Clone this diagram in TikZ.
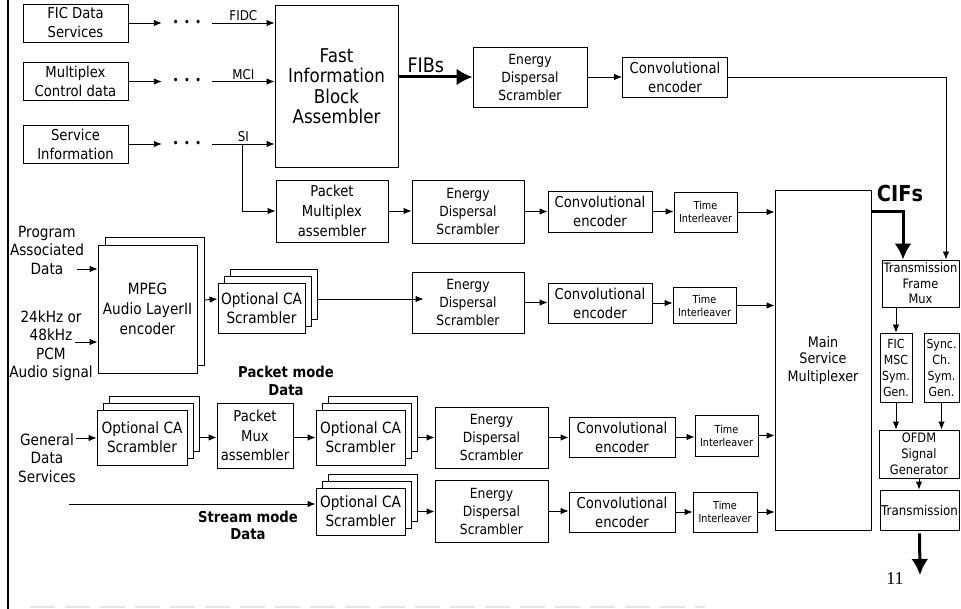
\documentclass[tikz,border=0pt]{standalone}
\usepackage{fontspec}
\setmainfont{DejaVu Sans}[FakeStretch=0.88]
\newfontfamily\pagenumfont{Liberation Serif}
\usetikzlibrary{arrows.meta,shadows}
\newcommand{\fsz}[2]{\fontsize{#1}{#2}\selectfont}

\begin{document}
\begin{tikzpicture}[x=1pt,y=-1pt,>={Latex[length=8pt,width=6.5pt]},
 blk/.style={draw,fill=white,align=center,inner sep=0.5pt,line width=0.9pt},
 sz/.style 2 args={minimum width=#1,minimum height=#2},
 layer/.style={copy shadow={fill=white,draw,line width=0.9pt,shadow xshift=#1*6pt,shadow yshift=#1*7pt}},
 stack/.style={blk,layer=2,layer=1},
 arr/.style={->,line width=0.9pt},
 fatarr/.style={-{Latex[length=16pt,width=17pt]},line width=3pt},
 txt/.style={align=center,inner sep=0pt,font=\fsz{15.5}{18.5}},
 bold/.style={align=center,inner sep=0pt,font=\bfseries\fsz{15}{17.5}},
 lab/.style={above,inner sep=1.5pt,font=\fsz{13.5}{13.5}},
 ellip/.style={inner sep=0pt,minimum width=50,font=\fsz{12}{12}},
 inp/.style={blk,sz={105}{38},font=\fsz{15}{19}},
 edsc/.style={blk,font=\fsz{14}{18}},
 conv/.style={blk,sz={105}{40},font=\fsz{15}{19}},
 tint/.style={blk,sz={63}{40},font=\fsz{11}{13}},
 casc/.style={stack,sz={89}{53},font=\fsz{15.5}{19}},
 right col/.style={blk,inner sep=0pt,font=\fsz{13}{15.5}}]
\useasboundingbox (0,0) rectangle (961,609);
\draw[line width=2pt] (8,0) -- (8,609);
\draw[gray!20,line width=2pt,dash pattern=on 25pt off 10pt] (30,607) -- (705,607);

% FIC part
\node[inp] (ficd) at (75.5,23) {FIC Data\\Services};
\node[inp] (mcd) at (75.5,81.5) {Multiplex\\Control data};
\node[inp] (sinf) at (75.5,144) {Service\\Information};
\node[ellip] (d1) at (187,23) {\textbullet\hspace{5pt}\textbullet\hspace{5pt}\textbullet};
\node[ellip] (d2) at (187,81.5) {\textbullet\hspace{5pt}\textbullet\hspace{5pt}\textbullet};
\node[ellip] (d3) at (187,144) {\textbullet\hspace{5pt}\textbullet\hspace{5pt}\textbullet};
\node[blk,sz={123}{162},font=\fsz{19}{20.5}] (fib) at (336.5,86)
 {Fast\\Information\\Block\\Assembler};
\draw[arr] (ficd) -- (d1);
\draw[arr] (mcd) -- (d2);
\draw[arr] (sinf) -- (d3);
\draw[arr] (d1) -- node[lab]{FIDC} (d1 -| fib.west);
\draw[arr] (d2) -- node[lab]{MCI} (d2 -| fib.west);
\draw[arr] (d3) -- node[lab]{SI} (d3 -| fib.west);
\node[edsc,sz={114}{60}] (ed1) at (530,77) {Energy\\Dispersal\\Scrambler};
\node[conv] (ce1) at (675,77) {Convolutional\\encoder};
\draw[fatarr] (fib.east |- ed1) -- node[above,pos=0.37,inner sep=3pt,font=\fsz{20}{20}]{FIBs} (ed1.west);
\draw[arr] (ed1) -- (ce1);

% packet data from SI
\coordinate (sib) at (242,144);
\node[blk,sz={112}{62},font=\fsz{15}{20}] (pma) at (332,211) {Packet\\Multiplex\\assembler};
\node[edsc,sz={112}{63}] (ed2) at (468,211.5) {Energy\\Dispersal\\Scrambler};
\node[conv,sz={104}{41}] (ce2) at (600,211.5) {Convolutional\\encoder};
\node[tint] (ti1) at (705.5,212) {Time\\Interleaver};
\node[blk,sz={96}{340},font=\fsz{14.5}{17}] (msm) at (823,360) {Main\\Service\\Multiplexer};
\draw[arr] (sib) |- (pma.west);
\draw[arr] (pma) -- (pma -| ed2.west);
\draw[arr] (ed2) -- (ed2 -| ce2.west);
\draw[arr] (ce2) -- (ce2 -| ti1.west);
\draw[arr] (ti1) -- (ti1 -| msm.west);

% audio
\node[txt] (pad) at (47,250) {Program\\Associated\\Data};
\node[txt] (aud) at (51,345.5) {24kHz or\\48kHz\\PCM\\Audio signal};
\coordinate (pd) at (77,269);
\coordinate (ad) at (75,342);
\node[blk,sz={99}{128},font=\fsz{15.5}{20},
 copy shadow={fill=white,draw,line width=0.9pt,shadow xshift=7pt,shadow yshift=8pt}]
 (mpeg) at (147.5,309) {MPEG\\Audio LayerII\\encoder};
\node[casc,sz={87}{50}] (ca1) at (261.5,308) {Optional CA\\Scrambler};
\node[edsc,sz={112}{61}] (ed3) at (468,302.5) {Energy\\Dispersal\\Scrambler};
\node[conv,sz={104}{40}] (ce3) at (600,303) {Convolutional\\encoder};
\node[tint,sz={63}{36}] (ti2) at (704.5,305.5) {Time\\Interleaver};
\draw[arr] (pd) -- (pd -| mpeg.west);
\draw[arr] (ad) -- (ad -| mpeg.west);
\draw[arr] ([xshift=7pt,yshift=9pt]mpeg.east) -- ([yshift=9pt]ca1.west);
\draw[arr] ([xshift=12pt,yshift=9pt]ca1.east) -- ([xshift=12pt,yshift=9pt]ca1.east -| ed3.west);
\draw[arr] (ed3) -- (ed3 -| ce3.west);
\draw[arr] (ce3) -- (ce3 -| ti2.west);
\draw[arr] (ti2) -- (ti2 -| msm.west);

% general data
\node[bold] (pmd) at (286,381) {Packet mode\\Data};
\node[txt] (gds) at (47,458) {General\\Data\\Services};
\coordinate (gd) at (76,438);
\node[casc,sz={90}{55}] (ca2) at (142,437.5) {Optional CA\\Scrambler};
\node[blk,sz={76}{65},font=\fsz{15}{19.5}] (pmx) at (255,435.5) {Packet\\Mux\\assembler};
\node[casc,sz={89}{55}] (ca3) at (360.5,437.5) {Optional CA\\Scrambler};
\node[edsc,sz={113}{61}] (ed4) at (491.5,437.5) {Energy\\Dispersal\\Scrambler};
\node[conv,sz={106}{40}] (ce4) at (622,437) {Convolutional\\encoder};
\node[tint,sz={63}{41}] (ti3) at (726.5,435.5) {Time\\Interleaver};
\draw[arr] (gd) -- (gd -| ca2.west);
\draw[arr] ([xshift=12pt]ca2.east) -- (ca2 -| pmx.west);
\draw[arr] (ca2 -| pmx.east) -- (ca2 -| ca3.west);
\draw[arr] ([xshift=12pt]ca3.east) -- (ca3 -| ed4.west);
\draw[arr] (ed4) -- (ed4 -| ce4.west);
\draw[arr] (ce4) -- (ce4 -| ti3.west);
\draw[arr] (ti3) -- (ti3 -| msm.west);

\node[bold] (smd) at (248,525.5) {Stream mode\\Data};
\coordinate (sd) at (69,504);
\node[casc,sz={89}{47}] (ca4) at (360.5,511.5) {Optional CA\\Scrambler};
\node[edsc,sz={113}{62}] (ed5) at (491.5,511) {Energy\\Dispersal\\Scrambler};
\node[conv,sz={106}{40}] (ce5) at (622,512) {Convolutional\\encoder};
\node[tint,sz={64}{40}] (ti4) at (725,512) {Time\\Interleaver};
\draw[arr] (sd) -- (sd -| ca4.west);
\draw[arr] ([xshift=12pt]ca4.east) -- (ca4 -| ed5.west);
\draw[arr] (ed5) -- (ed5 -| ce5.west);
\draw[arr] (ce5) -- (ce5 -| ti4.west);
\draw[arr] (ti4) -- (ti4 -| msm.west);

% transmission side
\node[right col,sz={77}{47}] (tfm) at (920.5,283.5) {Transmission\\Frame\\Mux};
\node[right col,sz={32}{69},font=\fsz{12.5}{16}] (fms) at (896,367.5) {FIC\\MSC\\Sym.\\Gen.};
\node[right col,sz={35}{69},font=\fsz{12.5}{16}] (scs) at (941.5,367.5) {Sync.\\Ch.\\Sym.\\Gen.};
\node[right col,sz={80}{48},font=\fsz{13}{16}] (ofdm) at (919,454) {OFDM\\Signal\\Generator};
\node[right col,sz={79}{40},font=\fsz{13.5}{16}] (tx) at (919.5,510) {Transmission};
\node[font=\bfseries\fsz{22}{22}] (cifs) at (900,193) {CIFs};
\coordinate (out) at (920,575);
\draw[arr] (ce1) -| ([xshift=25.5pt]tfm.north);
\draw[fatarr] (ti1 -| msm.east) -| ([xshift=-17.5pt]tfm.north);
\draw[arr] (fms.north |- tfm.south) -- (fms);
\draw[arr] (fms) -- (fms |- ofdm.north);
\draw[arr] (scs) -- (scs |- ofdm.north);
\draw[arr] (ofdm) -- (ofdm |- tx.north);
\draw[fatarr] ([yshift=-3pt]tx.south) -- (out);
\node[font=\pagenumfont\fsz{18}{18}] (pg) at (895,579) {11};
\end{tikzpicture}
\end{document}
